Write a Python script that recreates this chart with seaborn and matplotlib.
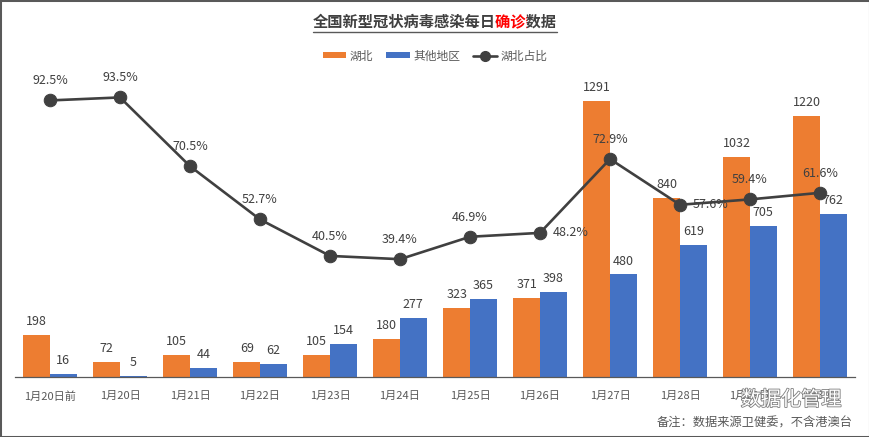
import numpy as np
import pandas as pd
import matplotlib
matplotlib.use("Agg")
import matplotlib.pyplot as plt
import matplotlib.patheffects as pe
from matplotlib.patches import Patch, Rectangle
from matplotlib.lines import Line2D
from matplotlib.transforms import Bbox
import seaborn as sns

# data
dates = ["1月20日前", "1月20日", "1月21日", "1月22日", "1月23日", "1月24日",
         "1月25日", "1月26日", "1月27日", "1月28日", "1月29日", "1月30日"]
hubei = [198, 72, 105, 69, 105, 180, 323, 371, 1291, 840, 1032, 1220]
others = [16, 5, 44, 62, 154, 277, 365, 398, 480, 619, 705, 762]
ratio = [0.925, 0.935, 0.705, 0.527, 0.405, 0.394, 0.469, 0.482, 0.729, 0.576, 0.594, 0.616]
series_names = ["湖北", "其他地区", "湖北占比"]

orange = "#ED7D31"
blue = "#4472C4"
dark = "#404040"
grey = "#595959"

sns.set_style("white")
plt.rcParams["font.family"] = ["Noto Sans CJK SC", "DejaVu Sans"]

df = pd.DataFrame({"date": dates * 2,
                   "value": hubei + others,
                   "series": [series_names[0]] * len(dates) + [series_names[1]] * len(dates)})

W, H = 870, 437
fig = plt.figure(figsize=(W / 100, H / 100), dpi=100)
ax = fig.add_axes([15 / W, 60 / H, 840 / W, 299 / H])

sns.barplot(data=df, x="date", y="value", hue="series", order=dates,
            palette=[orange, blue], width=0.76, saturation=1, linewidth=0,
            ax=ax, legend=False)
for cont in ax.containers:
    ax.bar_label(cont, padding=5, fontsize=9, color=dark)

ax.set_xlim(-0.5, len(dates) - 0.5)
ax.set_ylim(0, 1400)
ax.set_xlabel("")
ax.set_ylabel("")
ax.set_yticks([])
for s in ["top", "left", "right"]:
    ax.spines[s].set_visible(False)
ax.spines["bottom"].set_color(grey)
ax.spines["bottom"].set_linewidth(0.9)
ax.tick_params(axis="x", length=0, pad=10, labelsize=8, colors=grey)

ax2 = ax.twinx()
sns.lineplot(x=dates, y=ratio, ax=ax2, color=dark, linewidth=1.9, marker="o",
             markersize=9, markeredgecolor=dark, sort=False)
ax2.set_ylim(0, 1.0)
ax2.set_yticks([])
ax2.set_xlim(-0.5, len(dates) - 0.5)
for s in ax2.spines.values():
    s.set_visible(False)

# most labels sit above the point, two sit to the right
ratio_pos = ["up"] * len(dates)
ratio_pos[7] = "right"
ratio_pos[9] = "right"
for i, (r, p) in enumerate(zip(ratio, ratio_pos)):
    if p == "right":
        ax2.annotate(f"{r * 100:.1f}%", (i, r), xytext=(9, 0), textcoords="offset points",
                     ha="left", va="center", fontsize=9, color=dark)
    else:
        ax2.annotate(f"{r * 100:.1f}%", (i, r), xytext=(0, 14), textcoords="offset points",
                     ha="center", va="center", fontsize=9, color=dark)

# legend
handles = [Patch(facecolor=orange, edgecolor="none"),
           Patch(facecolor=blue, edgecolor="none"),
           Line2D([], [], color=dark, linewidth=1.9, marker="o", markersize=7)]
fig.legend(handles, series_names, loc="center", bbox_to_anchor=(0.5, 1 - 56 / H),
           ncol=3, frameon=False, fontsize=8.5, handlelength=2.0, handleheight=0.45,
           handletextpad=0.3, columnspacing=1.1, labelcolor=grey)

# title: same string drawn once per colour, each copy clipped to its own chars
title_parts = ["全国新型冠状病毒感染每日", "确诊", "数据"]
title_colors = [dark, "#FF0000", dark]
full_title = "".join(title_parts)
tsize = 11
ty = 1 - 22 / H
renderer = fig.canvas.get_renderer()
probe = fig.text(435 / W, ty, full_title, ha="center", va="center",
                 fontsize=tsize, fontweight="bold")
bb = probe.get_window_extent(renderer)
probe.remove()
cw = bb.width / len(full_title)
n = 0
for part, col in zip(title_parts, title_colors):
    t = fig.text(435 / W, ty, full_title, ha="center", va="center",
                 fontsize=tsize, fontweight="bold", color=col)
    x_a = bb.x0 + n * cw if n > 0 else bb.x0 - 5
    n += len(part)
    x_b = bb.x0 + n * cw if n < len(full_title) else bb.x1 + 5
    t.set_clip_box(Bbox([[x_a, bb.y0 - 5], [x_b, bb.y1 + 5]]))
    t.set_clip_on(True)
fig.add_artist(Line2D([bb.x0 / W, bb.x1 / W], [1 - 32 / H, 1 - 32 / H],
                      color=grey, linewidth=1.0))

# footnote and watermark
fig.text(853 / W, 1 - 423 / H, "备注：数据来源卫健委，不含港澳台", ha="right", va="center",
         fontsize=8.8, color=grey)
fig.text(791 / W, 1 - 400 / H, "数据化管理", ha="center", va="center", fontsize=14.5,
         color="white", fontweight="light",
         path_effects=[pe.Stroke(linewidth=1.2, foreground="#7f7f7f"), pe.Normal()])

fig.add_artist(Rectangle((0, 0), 1, 1, transform=fig.transFigure, fill=False,
                         edgecolor=grey, linewidth=2.2))

fig.savefig("out.png", dpi=100)
